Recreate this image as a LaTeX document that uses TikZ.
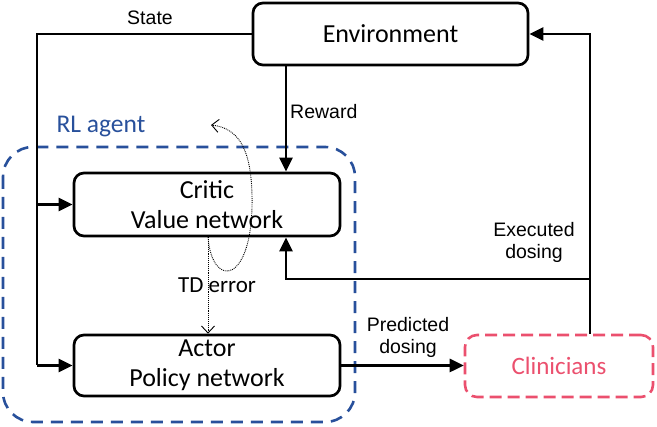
\documentclass[tikz,border=0pt]{standalone}
\usepackage{fontspec}
\setmainfont{Carlito}
\newfontfamily\arialf{Liberation Sans}
\usetikzlibrary{arrows.meta}
\definecolor{agentblue}{RGB}{40,80,155}
\definecolor{clinpink}{RGB}{235,80,110}
\begin{document}
\begin{tikzpicture}[x=1pt,y=-1pt,
 box/.style={draw, line width=2.7pt, rounded corners=10pt, inner sep=0pt, align=center,
   font=\fontsize{26}{30}\selectfont},
 conn/.style={line width=2.7pt, -{Triangle[length=14pt,width=13pt]}},
 plain/.style={line width=2.7pt},
 lbl/.style={font=\arialf\fontsize{19.5}{22}\selectfont, align=center, inner sep=0pt},
 dotl/.style={densely dotted, line width=0.9pt},
 barb/.style={-{Straight Barb[length=7pt,width=13pt,line width=0.9pt]}}
]
\useasboundingbox (0,0) rectangle (657,427);
% RL agent container
\draw[agentblue, line width=2.6pt, dash pattern=on 12pt off 8pt, rounded corners=30pt]
  (3,147) rectangle (355,422);
\node[agentblue, font=\fontsize{25.5}{28}\selectfont] (rl) at (101,127) {RL agent};

\node[box, minimum width=275pt, minimum height=62pt] (env) at (390.5,34) {Environment};
\node[box, minimum width=266pt, minimum height=63pt] (critic) at (207,204.5) {Critic\\Value network};
\node[box, minimum width=266pt, minimum height=61pt] (actor) at (207,365.5) {Actor\\Policy network};
\node[draw=clinpink, text=clinpink, line width=2.6pt, dash pattern=on 12pt off 6pt,
  rounded corners=12pt, minimum width=188pt, minimum height=62pt,
  font=\fontsize{25}{29}\selectfont] (clin) at (559,366) {Clinicians};

% coordinates
\coordinate (sx) at (37,0);
\coordinate (rx) at (286,0);
\coordinate (ex) at (590,0);
\coordinate (br) at (590,279);
\coordinate (tdx) at (208,0);

% State
\draw[plain] (env.west) -| (actor.west -| sx);
\draw[conn] (actor.west -| sx) -- (actor.west);
\draw[conn] (critic.west -| sx) -- (critic.west);
\node[lbl] (state) at (150,18) {State};

% Reward
\draw[conn] (env.south -| rx) -- (critic.north -| rx);
\node[lbl, anchor=west] (rew) at (290,112) {Reward};

% Executed dosing
\draw[conn] (clin.north -| ex) |- (env.east);
\draw[conn] (br) -| (critic.south -| rx);
\node[lbl] (exl) at (534,242) {Executed\\dosing};

% Predicted dosing
\draw[conn] (actor.east) -- (actor.east -| clin.west);
\node[lbl] (pdl) at (408,337) {Predicted\\dosing};

% TD error
\draw[dotl, barb] (critic.south -| tdx) -- (actor.north -| tdx);
\node[font=\fontsize{23}{26}\selectfont, inner sep=0pt] (td) at (217,285) {TD error};
\coordinate (lp0) at (208,237);
\coordinate (lp1) at (252,195);
\coordinate (lp2) at (211,125);
\draw[dotl, barb] (lp0) .. controls (212,290) and (254,285) .. (lp1)
  .. controls (251,148) and (238,128) .. (lp2);
\end{tikzpicture}
\end{document}
